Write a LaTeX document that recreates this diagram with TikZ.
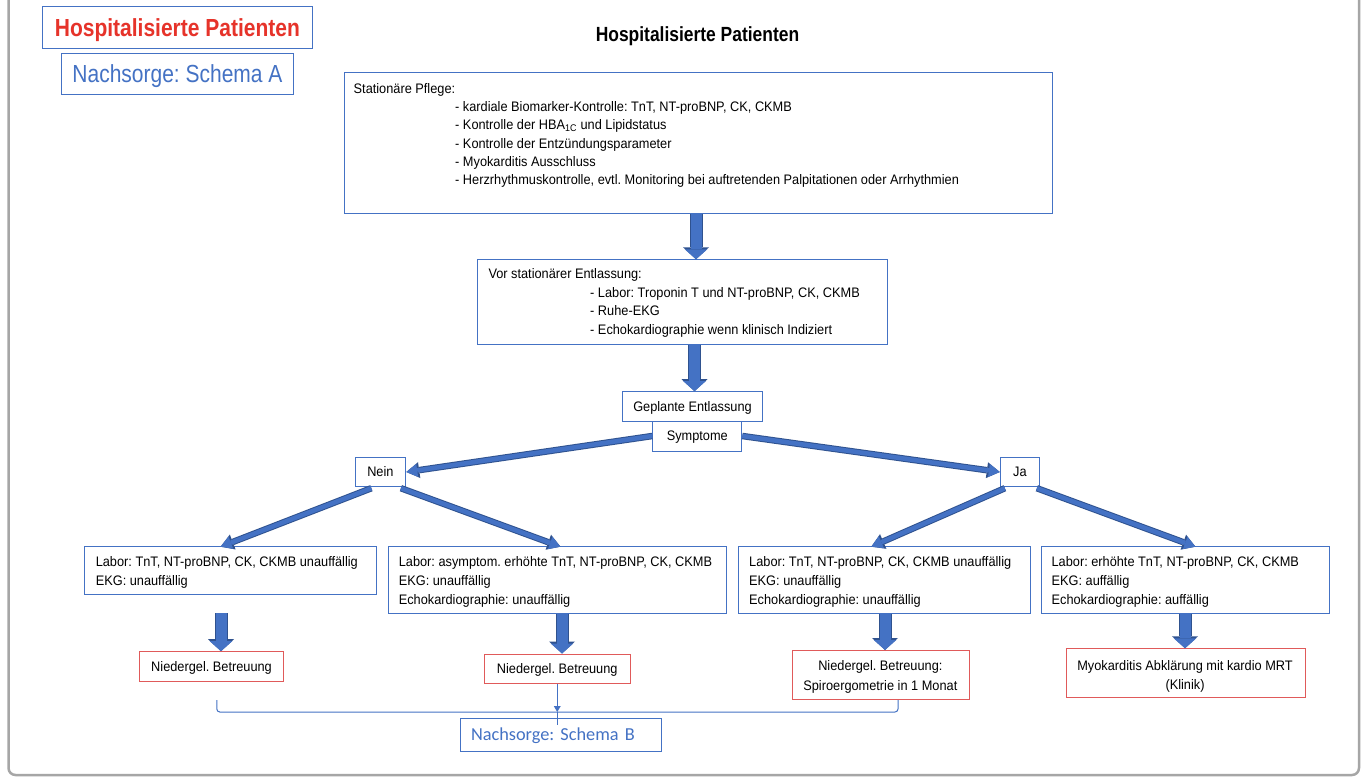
\documentclass[tikz,border=0pt]{standalone}
\usepackage{fontspec}
\setmainfont{Liberation Sans}
\newfontfamily\bigf{Liberation Sans}[FakeStretch=0.85]
\newfontfamily\smallf{Liberation Sans}[FakeStretch=0.925]
\newfontfamily\calf{Carlito}
\usetikzlibrary{arrows.meta,calc}
\definecolor{boxblue}{HTML}{4472C4}
\definecolor{arrowblue}{HTML}{4472C4}
\definecolor{arrowdark}{HTML}{2F528F}
\definecolor{titlered}{HTML}{E6332A}
\definecolor{boxred}{HTML}{E05A5A}
\definecolor{framegray}{HTML}{A6A6A6}
\newcommand\firststrut{\rule{0pt}{12pt}}
\newcommand\blockarr[2]{\draw[blockout] #1 -- #2; \draw[blockin] #1 -- #2;}
\newcommand\fatarr[2]{\draw[fatout] #1 -- #2; \draw[fatin] #1 -- #2;}
\begin{document}
\frenchspacing
\begin{tikzpicture}[x=1pt,y=-1pt,
  bluebox/.style={draw=boxblue, line width=1pt, inner sep=0pt},
  redbox/.style={draw=boxred, line width=1pt, inner sep=0pt},
  small/.style={font=\smallf\fontsize{13.8}{18.6}\selectfont},
  oneline/.style={small, text height=9.9pt, text depth=0pt},
  txt/.style={small, inner sep=0pt, anchor=north west, align=left},
  blockout/.style={draw=arrowdark, line width=13pt, -{Triangle[length=12pt,width=26pt,line width=0pt]}},
  blockin/.style={draw=arrowblue, line width=11pt, -{Triangle[length=10pt,width=22.5pt,line width=0pt]}},
  fatout/.style={draw=arrowdark, line width=6.5pt, -{Triangle[length=13pt,width=16pt,line width=0pt]}},
  fatin/.style={draw=arrowblue, line width=4.5pt, -{Triangle[length=11pt,width=13pt,line width=0pt]}},
  thinarrow/.style={draw=boxblue, line width=1pt, -{Triangle[length=6pt,width=7pt,line width=0pt]}},
  thinline/.style={draw=boxblue, line width=1pt},
]
\useasboundingbox (0,0) rectangle (1362,778);
\fill[white] (0,0) rectangle (1362,778);
% frame
\draw[framegray, line width=2.5pt, rounded corners=7pt] (8.5,-20) -- (8.5,775) -- (1359,775) -- (1359,-20);

% titles
\node[bluebox, minimum width=269.3pt, minimum height=41.6pt, text height=17.7pt, text depth=0pt,
  font=\bigf\bfseries\fontsize{24.7}{28}\selectfont, text=titlered] (title) at (177.35,27.5) {Hospitalisierte Patienten};
\node[bluebox, minimum width=231.6pt, minimum height=41.7pt, text height=17.7pt, text depth=0pt,
  font=\bigf\fontsize{24.7}{28}\selectfont, text=boxblue] (schemaA) at (177.5,74.15) {Nachsorge: Schema A};
\node[inner sep=0pt, text height=14.7pt, text depth=0pt, font=\bigf\bfseries\fontsize{20.5}{24}\selectfont] (head) at (697.5,34.6) {Hospitalisierte Patienten};

% box 1
\node[bluebox, anchor=north west, minimum width=708.4pt, minimum height=141pt] (pflege) at (343.6,71.7) {};
\node[txt, font=\smallf\fontsize{13.8}{18.3}\selectfont] (pflegetxt) at (353.5,81) {\firststrut Stationäre Pflege:\\
\hspace*{101.5pt}- kardiale Biomarker-Kontrolle: TnT, NT-proBNP, CK, CKMB\\
\hspace*{101.5pt}- Kontrolle der HBA\textsubscript{1C} und Lipidstatus\\
\hspace*{101.5pt}- Kontrolle der Entzündungsparameter\\
\hspace*{101.5pt}- Myokarditis Ausschluss\\
\hspace*{101.5pt}- Herzrhythmuskontrolle, evtl. Monitoring bei auftretenden Palpitationen oder Arrhythmien};

% box 2
\node[bluebox, anchor=north west, minimum width=409.7pt, minimum height=85pt] (vor) at (477.3,259.3) {};
\node[txt] (vortxt) at (488.3,266.5) {\firststrut Vor stationärer Entlassung:\\
\hspace*{101.7pt}- Labor: Troponin T und NT-proBNP, CK, CKMB\\
\hspace*{101.7pt}- Ruhe-EKG\\
\hspace*{101.7pt}- Echokardiographie wenn klinisch Indiziert};

% decision
\node[bluebox, oneline, minimum width=139.8pt, minimum height=29.3pt] (geplant) at (692.5,406.35) {Geplante Entlassung};
\node[bluebox, oneline, minimum width=89pt, minimum height=30pt] (symptome) at (697.3,436) {Symptome};
\node[bluebox, oneline, minimum width=50.8pt, minimum height=29.4pt] (nein) at (380.4,472) {Nein};
\node[bluebox, oneline, minimum width=39.1pt, minimum height=29.4pt] (ja) at (1019.85,472) {Ja};

% bottom boxes
\node[bluebox, anchor=north west, minimum width=291.8pt, minimum height=48.3pt] (bb1) at (84.2,545.7) {};
\node[bluebox, anchor=north west, minimum width=338pt, minimum height=67pt] (bb2) at (388,545.7) {};
\node[bluebox, anchor=north west, minimum width=291.6pt, minimum height=67pt] (bb3) at (738,545.7) {};
\node[bluebox, anchor=north west, minimum width=288pt, minimum height=67pt] (bb4) at (1041,545.7) {};
\node[txt, font=\smallf\fontsize{13.8}{18.75}\selectfont] (bt1) at (95.6,554.5) {\firststrut Labor: TnT, NT-proBNP, CK, CKMB unauffällig\\EKG: unauffällig};
\node[txt, font=\smallf\fontsize{13.8}{18.75}\selectfont] (bt2) at (398.6,554.5) {\firststrut Labor: asymptom. erhöhte TnT, NT-proBNP, CK, CKMB\\EKG: unauffällig\\Echokardiographie: unauffällig};
\node[txt, font=\smallf\fontsize{13.8}{18.75}\selectfont] (bt3) at (749,554.5) {\firststrut Labor: TnT, NT-proBNP, CK, CKMB unauffällig\\EKG: unauffällig\\Echokardiographie: unauffällig};
\node[txt, font=\smallf\fontsize{13.8}{18.75}\selectfont] (bt4) at (1051.4,554.5) {\firststrut Labor: erhöhte TnT, NT-proBNP, CK, CKMB\\EKG: auffällig\\Echokardiographie: auffällig};

% red boxes
\node[redbox, oneline, minimum width=143.5pt, minimum height=30pt] (r1) at (211.55,666.7) {Niedergel. Betreuung};
\node[redbox, oneline, minimum width=146.5pt, minimum height=29.3pt] (r2) at (557.25,668.65) {Niedergel. Betreuung};
\node[redbox, anchor=north west, minimum width=177.3pt, minimum height=49.3pt] (r3) at (791.7,650) {};
\node[txt, anchor=north, align=center, font=\smallf\fontsize{13.8}{19.3}\selectfont] (r3txt) at (880.35,658.7) {\firststrut Niedergel. Betreuung:\\Spiroergometrie in 1 Monat};
\node[redbox, anchor=north west, minimum width=239.1pt, minimum height=49pt] (r4) at (1065.5,648.3) {};
\node[txt, anchor=north, align=center, font=\smallf\fontsize{13.8}{19.3}\selectfont] (r4txt) at (1185.05,658) {\firststrut Myokarditis Abklärung mit kardio MRT\\(Klinik)};

% schema B
\node[bluebox, minimum width=201pt, minimum height=33pt, text width=179pt, inner xsep=11pt, align=left,
  text height=11.6pt, text depth=0pt, font=\calf\fontsize{18.3}{22}\selectfont, text=boxblue] (schemaB) at (560.5,734.5) {Nachsorge: Schema B};

% block arrows
\coordinate (ax0) at (696,0);
\coordinate (ax00) at (694.5,0);
\coordinate (ax1) at (221,0);
\coordinate (ax2) at (562,0);
\coordinate (ax3) at (885,0);
\coordinate (ax4) at (1185,0);
\blockarr{(pflege.south -| ax0)}{(vor.north -| ax0)}
\blockarr{(vor.south -| ax00)}{(geplant.north -| ax00)}
\blockarr{($(bb1.south -| ax1)+(0,18)$)}{(r1.north -| ax1)}
\blockarr{(bb2.south -| ax2)}{(r2.north -| ax2)}
\blockarr{(bb3.south -| ax3)}{(r3.north -| ax3)}
\blockarr{(bb4.south -| ax4)}{(r4.north -| ax4)}

% fat diagonal arrows
\fatarr{(symptome.west)}{(nein.east)}
\fatarr{(symptome.east)}{(ja.west)}
\fatarr{($(nein.south)+(-9,1)$)}{($(bb1.north)+(-10,1)$)}
\fatarr{($(nein.south)+(20.5,1)$)}{($(bb2.north)+(3,1)$)}
\fatarr{($(ja.south)+(-15,1)$)}{($(bb3.north)+(-13,1)$)}
\fatarr{($(ja.south)+(17,1)$)}{($(bb4.north)+(10,1)$)}

% bracket to schema B
\coordinate (brL) at (216.8,700);
\coordinate (brR) at (898,700);
\coordinate (brM) at (557.25,712);
\draw[thinline, rounded corners=3pt] (brL) -- (brL |- brM) -- (brR |- brM) -- (brR);
\draw[thinarrow] (r2.south) -- (brM);
\draw[thinline] (brM) -- ($(schemaB.north -| brM)+(0,7)$);
\end{tikzpicture}
\end{document}
